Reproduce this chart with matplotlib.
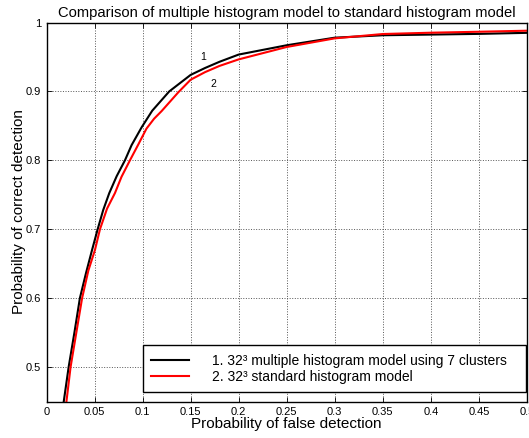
import matplotlib
matplotlib.use('Agg')
import matplotlib.pyplot as pl
import numpy as np

# (probability of false detection vs correct detection)
fd_multi = [0.0179, 0.023, 0.029, 0.0347, 0.041, 0.047, 0.0532, 0.059, 0.0653, 0.073,
            0.0816, 0.0885, 0.099, 0.110, 0.1277, 0.15, 0.165, 0.18, 0.2, 0.25,
            0.3, 0.35, 0.4, 0.45, 0.5]
cd_multi = [0.45, 0.5, 0.55, 0.6, 0.636, 0.668, 0.7, 0.728, 0.7525, 0.777,
            0.8, 0.822, 0.848, 0.872, 0.9, 0.924, 0.934, 0.943, 0.9535, 0.967,
            0.978, 0.9815, 0.9825, 0.9835, 0.985]

fd_std = [0.0207, 0.025, 0.031, 0.037, 0.0435, 0.0504, 0.0556, 0.063, 0.0712, 0.078,
          0.0868, 0.0955, 0.104, 0.112, 0.1198, 0.137, 0.15, 0.165, 0.18, 0.2, 0.25,
          0.3, 0.35, 0.4, 0.45, 0.5]
cd_std = [0.45, 0.5, 0.55, 0.6, 0.64, 0.67, 0.7, 0.73, 0.7525, 0.776,
          0.8, 0.823, 0.846, 0.8605, 0.8715, 0.8985, 0.917, 0.928, 0.937, 0.9465, 0.9645,
          0.977, 0.9833, 0.9852, 0.9866, 0.9881]

xticks = [0, 0.05, 0.1, 0.15, 0.2, 0.25, 0.3, 0.35, 0.4, 0.45, 0.5]
xticklabels = ['0', '0.05', '0.1', '0.15', '0.2', '0.25', '0.3', '0.35', '0.4', '0.45', '0.5']
yticks = [0.5, 0.6, 0.7, 0.8, 0.9, 1.0]
yticklabels = ['0.5', '0.6', '0.7', '0.8', '0.9', '1']

labels = ["1. 32³ multiple histogram model using 7 clusters",
          "2. 32³ standard histogram model"]

pl.rcParams['font.family'] = 'Liberation Sans'
pl.rcParams['xtick.direction'] = 'in'
pl.rcParams['ytick.direction'] = 'in'
pl.rcParams['xtick.top'] = True
pl.rcParams['ytick.right'] = True

fig = pl.figure(figsize=(5.29, 4.38), dpi=100)
ax = fig.add_axes([0.088, 0.0833, 0.908, 0.8653])

ax.plot(fd_multi, cd_multi, color='black', lw=1.5, label=labels[0])
ax.plot(fd_std, cd_std, color='red', lw=1.5, label=labels[1])

ax.text(0.163, 0.950, '1', fontsize=7.5, ha='center', va='center')
ax.text(0.174, 0.911, '2', fontsize=7.5, ha='center', va='center')

ax.set_xlim(0, 0.5)
ax.set_ylim(0.45, 1)
ax.set_xticks(xticks)
ax.set_xticklabels(xticklabels)
ax.set_yticks(yticks)
ax.set_yticklabels(yticklabels)
ax.tick_params(labelsize=8, length=3.5, width=0.6, pad=4)
ax.grid(True, linestyle=':', color='#555555', linewidth=0.7)
for s in ax.spines.values():
    s.set_linewidth(1.0)

ax.set_title("Comparison of multiple histogram model to standard histogram model", fontsize=10.6, pad=4)
ax.set_xlabel("Probability of false detection", fontsize=11, labelpad=0)
ax.set_ylabel("Probability of correct detection", fontsize=11, labelpad=0)

leg = ax.legend(loc='lower left', bbox_to_anchor=(0.2007, 0.025, 0.797, 0.2), mode='expand',
                borderaxespad=0, fontsize=10, handlelength=2.73, handletextpad=1.65,
                labelspacing=0.15, borderpad=0.6, fancybox=False, framealpha=1,
                edgecolor='black')
leg.get_frame().set_linewidth(1.0)

fig.savefig('out.png', dpi=100)
